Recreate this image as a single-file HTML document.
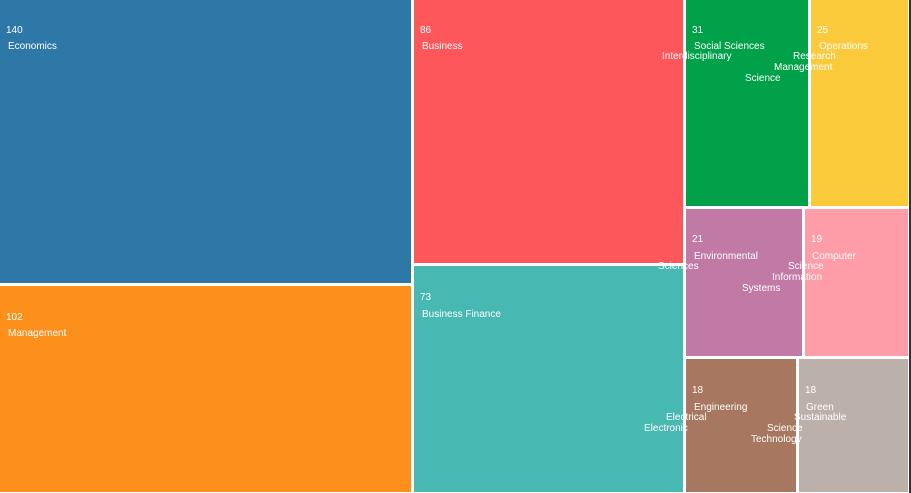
<!DOCTYPE html>
<html><head><style>
body{margin:0;width:911px;height:493px;background:#fff;position:relative;overflow:hidden;font-family:"Liberation Sans",sans-serif;}
.r{position:absolute}
.t{position:absolute;color:#fff;font-size:10px;line-height:12px;white-space:nowrap}
</style></head><body>
<div class="r" style="left:0;top:0;width:411px;height:283px;background:#2e78a8"></div>
<div class="r" style="left:0;top:286px;width:411px;height:206px;background:#fd901d"></div>
<div class="r" style="left:414px;top:0;width:269px;height:263px;background:#fd575b"></div>
<div class="r" style="left:414px;top:266px;width:269px;height:226px;background:#48b8b2"></div>
<div class="r" style="left:686px;top:0;width:122px;height:206px;background:#00a149"></div>
<div class="r" style="left:811px;top:0;width:97px;height:206px;background:#fbca3b"></div>
<div class="r" style="left:686px;top:209px;width:116px;height:147px;background:#c07aa5"></div>
<div class="r" style="left:805px;top:209px;width:103px;height:147px;background:#fe9ca8"></div>
<div class="r" style="left:686px;top:359px;width:110px;height:133px;background:#a7775f"></div>
<div class="r" style="left:799px;top:359px;width:109px;height:133px;background:#bcb0ab"></div>
<div class="r" style="left:909px;top:0;width:2px;height:493px;background:#333"></div>

<div class="t" style="left:6px;top:25px">140</div><div class="t" style="left:8px;top:41px">Economics</div>
<div class="t" style="left:6px;top:312px">102</div><div class="t" style="left:8px;top:328px">Management</div>
<div class="t" style="left:420px;top:25px">86</div><div class="t" style="left:422px;top:41px">Business</div>
<div class="t" style="left:420px;top:292px">73</div><div class="t" style="left:422px;top:309px">Business Finance</div>

<div class="t" style="left:692px;top:25px">31</div>
<div class="t" style="left:694px;top:41px">Social Sciences</div>
<div class="t" style="left:662px;top:51px">Interdisciplinary</div>
<div class="t" style="left:793px;top:51px">Research</div>
<div class="t" style="left:774px;top:62px">Management</div>
<div class="t" style="left:745px;top:73px">Science</div>
<div class="t" style="left:817px;top:25px">25</div>
<div class="t" style="left:819px;top:41px">Operations</div>

<div class="t" style="left:692px;top:234px">21</div>
<div class="t" style="left:694px;top:251px">Environmental</div>
<div class="t" style="left:658px;top:261px">Sciences</div>
<div class="t" style="left:788px;top:261px">Science</div>
<div class="t" style="left:772px;top:272px">Information</div>
<div class="t" style="left:742px;top:283px">Systems</div>
<div class="t" style="left:811px;top:234px">19</div>
<div class="t" style="left:812px;top:251px">Computer</div>

<div class="t" style="left:692px;top:385px">18</div>
<div class="t" style="left:694px;top:402px">Engineering</div>
<div class="t" style="left:666px;top:412px">Electrical</div>
<div class="t" style="left:644px;top:423px">Electronic</div>
<div class="t" style="left:767px;top:423px">Science</div>
<div class="t" style="left:751px;top:434px">Technology</div>
<div class="t" style="left:805px;top:385px">18</div>
<div class="t" style="left:806px;top:402px">Green</div>
<div class="t" style="left:794px;top:412px">Sustainable</div>
</body></html>
